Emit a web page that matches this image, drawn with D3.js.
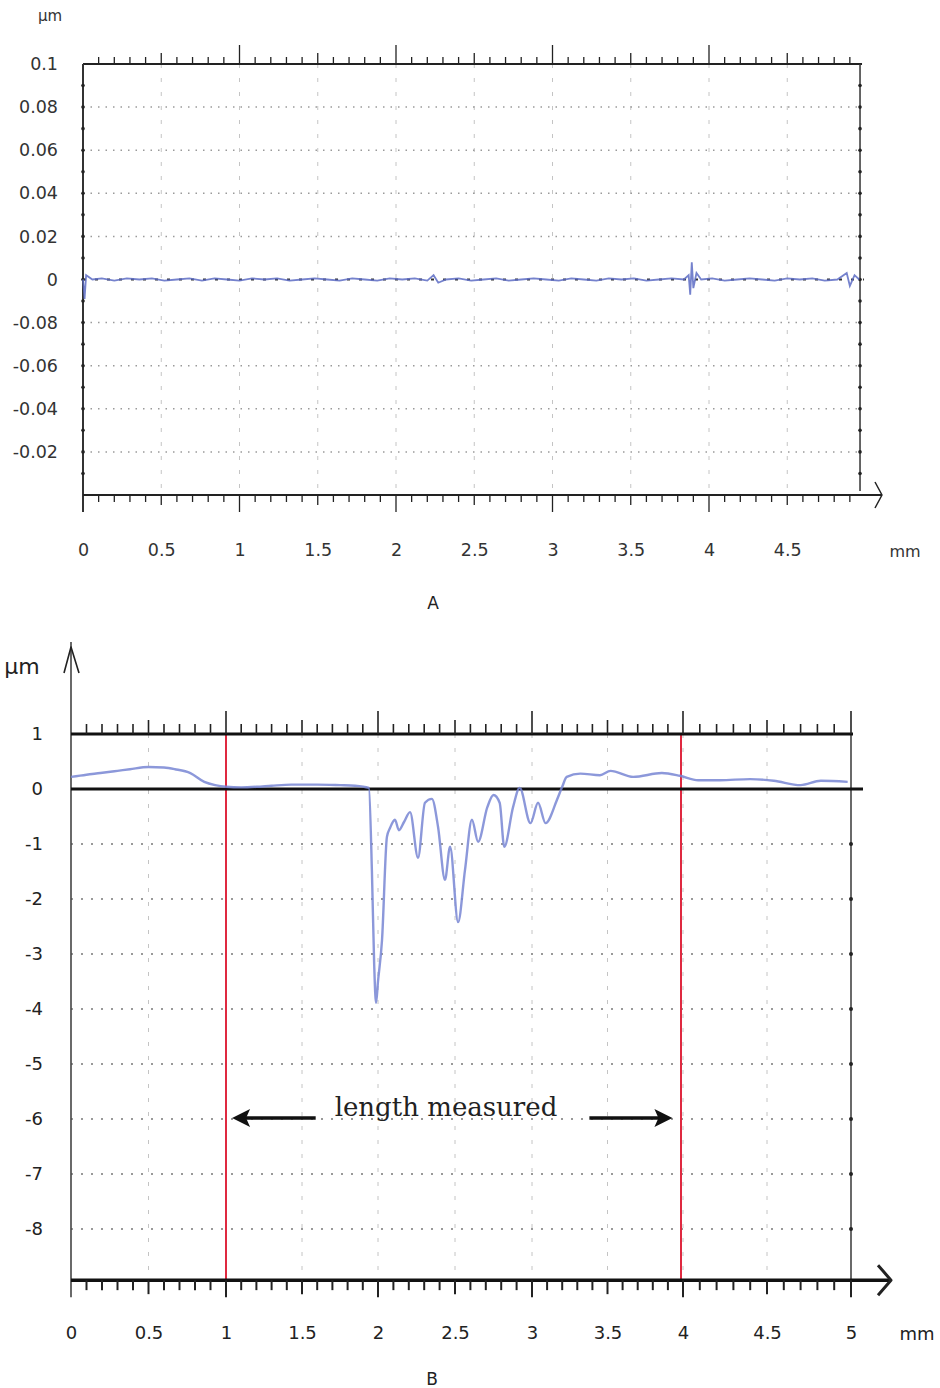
<!DOCTYPE html>
<html>
<head>
<meta charset="utf-8">
<script src="https://cdn.jsdelivr.net/npm/d3@7"></script>
<style>
    body { margin: 0; background: #fff; }
    svg { display: block; font-family: "DejaVu Sans", Arial, sans-serif; }
</style>
</head>
<body>
<svg id="chart" width="940" height="1388"></svg>
<script>
// Panel A - reference surface, almost flat
const xTicksA = [0, 0.5, 1, 1.5, 2, 2.5, 3, 3.5, 4, 4.5];
const yTickValuesA = [0.1, 0.08, 0.06, 0.04, 0.02, 0, -0.02, -0.04, -0.06, -0.08];
const yTickLabelsA = ['0.1', '0.08', '0.06', '0.04', '0.02', '0', '-0.08', '-0.06', '-0.04', '-0.02'];
const profileA = [
    [0.00, 0.000], [0.01, -0.009], [0.02, 0.002], [0.06, 0.000], [0.12, 0.0005], [0.20, -0.0005],
    [0.28, 0.0005], [0.36, 0.000], [0.44, 0.0005], [0.52, -0.0005], [0.60, 0.000], [0.68, 0.0005],
    [0.76, -0.0005], [0.84, 0.0005], [0.92, 0.000], [1.00, -0.0005], [1.08, 0.0005], [1.16, 0.000],
    [1.24, 0.0005], [1.32, -0.0005], [1.40, 0.000], [1.48, 0.0005], [1.56, 0.000], [1.64, -0.0005],
    [1.72, 0.0005], [1.80, 0.000], [1.88, -0.0005], [1.96, 0.0005], [2.04, 0.000], [2.12, 0.0005],
    [2.20, -0.0005], [2.24, 0.002], [2.27, -0.0015], [2.32, 0.000], [2.40, 0.0005], [2.48, -0.0005],
    [2.56, 0.000], [2.64, 0.0005], [2.72, -0.0005], [2.80, 0.000], [2.88, 0.0005], [2.96, 0.000],
    [3.04, -0.0005], [3.12, 0.0005], [3.20, 0.000], [3.28, -0.0005], [3.36, 0.0005], [3.44, 0.000],
    [3.52, 0.0005], [3.60, -0.0005], [3.68, 0.000], [3.76, 0.0005], [3.84, 0.000], [3.87, 0.002],
    [3.88, -0.007], [3.89, 0.008], [3.90, -0.004], [3.92, 0.003], [3.95, 0.000], [4.02, 0.0005],
    [4.10, -0.0005], [4.18, 0.000], [4.26, 0.0005], [4.34, 0.000], [4.42, -0.0005], [4.50, 0.0005],
    [4.58, 0.000], [4.66, 0.0005], [4.74, -0.0005], [4.82, 0.000], [4.88, 0.003], [4.90, -0.003],
    [4.93, 0.002], [4.96, 0.000]
];

// Panel B - damaged surface, profile in micrometres
const xTicksB = [0, 0.5, 1, 1.5, 2, 2.5, 3, 3.5, 4, 4.5, 5];
const yTicksB = [1, 0, -1, -2, -3, -4, -5, -6, -7, -8];
const profileB = [
    [0.00, 0.22], [0.10, 0.26], [0.19, 0.29], [0.30, 0.33], [0.38, 0.36], [0.50, 0.40],
    [0.60, 0.39], [0.67, 0.36], [0.77, 0.29], [0.86, 0.13], [0.93, 0.07], [1.00, 0.04],
    [1.10, 0.03], [1.20, 0.04], [1.30, 0.06], [1.43, 0.08], [1.60, 0.08], [1.75, 0.07],
    [1.85, 0.06], [1.94, 0.02], [1.96, -1.50], [1.975, -3.20], [1.987, -3.89], [2.00, -3.50],
    [2.026, -2.75], [2.058, -0.87], [2.078, -0.71], [2.11, -0.56], [2.136, -0.75], [2.169, -0.60],
    [2.208, -0.42], [2.26, -1.25], [2.305, -0.25], [2.35, -0.18], [2.39, -0.69], [2.435, -1.65],
    [2.468, -1.05], [2.52, -2.42], [2.565, -1.47], [2.61, -0.56], [2.65, -0.96], [2.71, -0.33],
    [2.75, -0.11], [2.79, -0.25], [2.82, -1.05], [2.877, -0.33], [2.92, 0.02], [2.99, -0.62],
    [3.04, -0.25], [3.09, -0.62], [3.165, -0.20], [3.20, 0.04], [3.23, 0.22], [3.32, 0.28],
    [3.45, 0.25], [3.52, 0.33], [3.67, 0.22], [3.86, 0.29], [3.98, 0.24], [4.09, 0.16],
    [4.22, 0.16], [4.40, 0.18], [4.54, 0.15], [4.70, 0.07], [4.82, 0.15], [4.98, 0.13]
];
const measuredB = [1, 4];
const arrowLeftB = [1.59, 1.04];
const arrowRightB = [3.38, 3.93];

const svg = d3.select('#chart');

// tick length by kind: whole mm, half mm, tenth
function tickLen(v, lens) {
    const k = Math.round(v * 10);
    if (k % 10 === 0) return lens[0];
    if (k % 5 === 0) return lens[1];
    return lens[2];
}

function drawTicks(g, x, values, y, dir, lens, width) {
    g.append('g').selectAll('line')
        .data(values)
        .enter()
        .append('line')
        .attr('x1', d => x(d)).attr('x2', d => x(d))
        .attr('y1', y).attr('y2', d => y + dir * tickLen(d, lens))
        .attr('stroke', '#222')
        .attr('stroke-width', width);
}

function chevron(g, pts, width) {
    g.append('path')
        .attr('d', d3.line()(pts))
        .attr('fill', 'none')
        .attr('stroke', '#222')
        .attr('stroke-width', width)
        .attr('stroke-linejoin', 'round');
}

// plain numbers with an ascii hyphen, like the original
const plain = d => String(d);

/**
 * Panel A
 */
function drawA() {
    const x = d3.scaleLinear().domain([0, 5]).range([83, 865.5]);
    const y = d3.scaleLinear().domain([-0.1, 0.1]).range([495, 64]);
    const xEnd = 4.965;
    const g = svg.append('g');

    // vertical dashed grid every 0.5 mm
    g.append('g').selectAll('line')
        .data(d3.range(0.5, 5, 0.5))
        .enter().append('line')
        .attr('x1', d => x(d)).attr('x2', d => x(d))
        .attr('y1', y(0.1)).attr('y2', y(-0.1))
        .attr('stroke', '#c4c4c4')
        .attr('stroke-dasharray', '4,10');

    // dotted horizontal grid
    g.append('g').selectAll('line')
        .data(yTickValuesA.filter(d => d !== 0.1 && d !== 0))
        .enter().append('line')
        .attr('x1', x(0)).attr('x2', x(xEnd))
        .attr('y1', d => y(d)).attr('y2', d => y(d))
        .attr('stroke', '#9a9a9a')
        .attr('stroke-width', 1.5)
        .attr('stroke-dasharray', '1.5,6');

    // frame
    g.append('line')
        .attr('x1', x(0)).attr('x2', x(xEnd) + 2)
        .attr('y1', y(0.1)).attr('y2', y(0.1))
        .attr('stroke', '#222').attr('stroke-width', 2);
    g.append('line')
        .attr('x1', x(xEnd)).attr('x2', x(xEnd))
        .attr('y1', y(0.1)).attr('y2', y(-0.1) - 4)
        .attr('stroke', '#333').attr('stroke-width', 1.5);
    g.append('line')
        .attr('x1', x(0)).attr('x2', x(0))
        .attr('y1', y(0.1)).attr('y2', y(-0.1) + 17)
        .attr('stroke', '#333').attr('stroke-width', 2);
    g.append('line')
        .attr('x1', x(0)).attr('x2', 882)
        .attr('y1', y(-0.1)).attr('y2', y(-0.1))
        .attr('stroke', '#222').attr('stroke-width', 2);
    chevron(g, [[875, y(-0.1) - 13], [882, y(-0.1)], [875, y(-0.1) + 13]], 1.5);

    // dots on both vertical edges
    const dotVals = d3.range(-0.09, 0.1, 0.01);
    [0, xEnd].forEach(xv => {
        g.append('g').selectAll('circle')
            .data(dotVals)
            .enter().append('circle')
            .attr('cx', x(xv)).attr('cy', d => y(d))
            .attr('r', 1.8).attr('fill', '#222');
    });

    // ticks on top and bottom lines
    const tenths = d3.range(1, 50).map(d => d / 10);
    drawTicks(g, x, tenths, y(0.1), -1, [19, 11, 7], 1.3);
    drawTicks(g, x, tenths, y(-0.1), 1, [17, 10, 7], 1.3);

    // zero line with profile
    g.append('line')
        .attr('x1', x(0)).attr('x2', x(xEnd) + 4)
        .attr('y1', y(0)).attr('y2', y(0))
        .attr('stroke', '#333').attr('stroke-width', 2)
        .attr('stroke-dasharray', '3,9');
    g.append('path')
        .datum(profileA)
        .attr('d', d3.line().x(d => x(d[0])).y(d => y(d[1])))
        .attr('fill', 'none')
        .attr('stroke', '#5d6cc4')
        .attr('stroke-width', 1.8)
        .attr('stroke-opacity', 0.85);

    // labels
    const yAxis = g.append('g')
        .attr('transform', 'translate(58,0)')
        .call(d3.axisLeft(y).tickValues(yTickValuesA).tickSize(0).tickPadding(0)
            .tickFormat((d, i) => yTickLabelsA[i]));
    const xAxis = g.append('g')
        .attr('transform', 'translate(0,544)')
        .call(d3.axisBottom(x).tickValues(xTicksA).tickSize(0).tickPadding(0)
            .tickFormat(plain));
    [yAxis, xAxis].forEach(a => {
        a.select('.domain').remove();
        a.selectAll('text')
            .style('font-family', '"DejaVu Sans", Arial, sans-serif')
            .style('font-size', '17.5px')
            .attr('fill', '#333');
    });

    g.append('text').attr('x', 905).attr('y', 557)
        .attr('text-anchor', 'middle').style('font-size', '16px').attr('fill', '#333')
        .text('mm');
    g.append('text').attr('x', 50).attr('y', 21)
        .attr('text-anchor', 'middle').style('font-size', '15px').attr('fill', '#333')
        .text('μm');
    g.append('text').attr('x', 433).attr('y', 609)
        .attr('text-anchor', 'middle').style('font-size', '17px').attr('fill', '#222')
        .text('A');
}

/**
 * Panel B
 */
function drawB() {
    const x = d3.scaleLinear().domain([0, 1, 2, 3, 4, 5]).range([71, 226, 378, 532, 683, 851]);
    const y = d3.scaleLinear().domain([0, 1]).range([789, 734]);
    const yBottom = -8.93;
    const g = svg.append('g');

    // vertical dashed grid every 0.5 mm
    g.append('g').selectAll('line')
        .data(d3.range(0.5, 5, 0.5))
        .enter().append('line')
        .attr('x1', d => x(d)).attr('x2', d => x(d))
        .attr('y1', y(1)).attr('y2', y(yBottom))
        .attr('stroke', '#c4c4c4')
        .attr('stroke-dasharray', '4,10');

    // dotted horizontal grid
    g.append('g').selectAll('line')
        .data(yTicksB.filter(d => d < 0))
        .enter().append('line')
        .attr('x1', x(0)).attr('x2', x(5))
        .attr('y1', d => y(d)).attr('y2', d => y(d))
        .attr('stroke', '#999')
        .attr('stroke-width', 2)
        .attr('stroke-dasharray', '2,8');

    // right edge and its dots
    g.append('line')
        .attr('x1', x(5)).attr('x2', x(5))
        .attr('y1', y(1)).attr('y2', y(yBottom))
        .attr('stroke', '#444').attr('stroke-width', 1.6);
    g.append('g').selectAll('circle')
        .data(yTicksB.filter(d => d < 0))
        .enter().append('circle')
        .attr('cx', x(5)).attr('cy', d => y(d))
        .attr('r', 2).attr('fill', '#222');

    // left axis with arrow
    g.append('line')
        .attr('x1', x(0)).attr('x2', x(0))
        .attr('y1', 642).attr('y2', y(yBottom) + 17)
        .attr('stroke', '#444').attr('stroke-width', 1.6);
    chevron(g, [[64, 673], [x(0), 647], [79, 673]], 1.6);

    // measured length markers
    g.append('g').selectAll('line')
        .data(measuredB)
        .enter().append('line')
        .attr('x1', d => x(d) - (d === 4 ? 2 : 0)).attr('x2', d => x(d) - (d === 4 ? 2 : 0))
        .attr('y1', y(1)).attr('y2', y(yBottom))
        .attr('stroke', '#df2940')
        .attr('stroke-width', 2);

    // top, zero and bottom lines
    g.append('line')
        .attr('x1', x(0)).attr('x2', x(5) + 2)
        .attr('y1', y(1)).attr('y2', y(1))
        .attr('stroke', '#111').attr('stroke-width', 3);
    g.append('line')
        .attr('x1', x(0)).attr('x2', 863)
        .attr('y1', y(0)).attr('y2', y(0))
        .attr('stroke', '#111').attr('stroke-width', 3);
    g.append('line')
        .attr('x1', x(0)).attr('x2', 890)
        .attr('y1', y(yBottom)).attr('y2', y(yBottom))
        .attr('stroke', '#111').attr('stroke-width', 3.5);
    chevron(g, [[878, y(yBottom) - 15], [891, y(yBottom)], [878, y(yBottom) + 15]], 3);

    const tenths = d3.range(1, 51).map(d => d / 10);
    drawTicks(g, x, tenths, y(1), -1, [23, 14, 10], 1.6);
    drawTicks(g, x, tenths, y(yBottom), 1, [17, 14, 10], 2);

    // profile
    g.append('path')
        .datum(profileB)
        .attr('d', d3.line().curve(d3.curveMonotoneX).x(d => x(d[0])).y(d => y(d[1])))
        .attr('fill', 'none')
        .attr('stroke', '#7886d4')
        .attr('stroke-width', 2.4)
        .attr('stroke-opacity', 0.85)
        .attr('stroke-linejoin', 'round');

    // length measured annotation
    const arrowY = 1118;
    [arrowLeftB, arrowRightB].forEach(a => {
        const x0 = x(a[0]), x1 = x(a[1]);
        const dir = Math.sign(x1 - x0);
        g.append('line')
            .attr('x1', x0).attr('x2', x1 - dir * 12)
            .attr('y1', arrowY).attr('y2', arrowY)
            .attr('stroke', '#111').attr('stroke-width', 3.5);
        g.append('path')
            .attr('d', d3.line()([[x1, arrowY], [x1 - dir * 18, arrowY - 9], [x1 - dir * 14, arrowY], [x1 - dir * 18, arrowY + 9]]) + 'Z')
            .attr('fill', '#111');
    });
    g.append('text')
        .attr('x', 446).attr('y', 1116)
        .attr('text-anchor', 'middle')
        .style('font-family', '"DejaVu Serif", "Liberation Serif", serif')
        .style('font-size', '26px')
        .attr('fill', '#222')
        .text('length measured');

    // labels
    const yAxis = g.append('g')
        .attr('transform', 'translate(43,0)')
        .call(d3.axisLeft(y).tickValues(yTicksB).tickSize(0).tickPadding(0)
            .tickFormat(plain));
    const xAxis = g.append('g')
        .attr('transform', 'translate(0,1326)')
        .call(d3.axisBottom(x).tickValues(xTicksB).tickSize(0).tickPadding(0)
            .tickFormat(plain));
    [yAxis, xAxis].forEach(a => {
        a.select('.domain').remove();
        a.selectAll('text')
            .style('font-family', '"DejaVu Sans", Arial, sans-serif')
            .style('font-size', '18px')
            .attr('fill', '#222');
    });

    g.append('text').attr('x', 917).attr('y', 1340)
        .attr('text-anchor', 'middle').style('font-size', '18px').attr('fill', '#222')
        .text('mm');
    g.append('text').attr('x', 22).attr('y', 674)
        .attr('text-anchor', 'middle').style('font-size', '22px').attr('fill', '#222')
        .text('μm');
    g.append('text').attr('x', 432).attr('y', 1385)
        .attr('text-anchor', 'middle').style('font-size', '17px').attr('fill', '#222')
        .text('B');
}

drawA();
drawB();
</script>
</body>
</html>
